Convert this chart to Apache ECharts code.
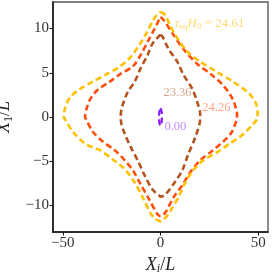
<!DOCTYPE html>
<html><head><meta charset="utf-8">
<script src="https://cdn.jsdelivr.net/npm/echarts@6/dist/echarts.min.js"></script>
<style>html,body{margin:0;padding:0;background:#fff}#c{width:272px;height:272px}</style>
</head><body><div id="c"></div><script>
// closed contours [X_i/L, X_1/L]
const curve000 = [[0,1.0],[0.6,0.6],[0.7,0],[0.6,-0.6],[0,-1.0],[-0.6,-0.6],[-0.7,0],[-0.6,0.6],[0,1.0]];
const curve2336 = [[0,9.3],[1,9.1],[4.1,7.7],[8.6,6.25],[11.7,4.8],[16.2,3.2],[18.8,1.7],[20.3,0.3],
  [20.3,-0.2],[17.8,-2.3],[14.2,-4.2],[11.2,-6.0],[6.6,-7.6],[2.5,-8.75],[0,-9.0],
  [-0.5,-8.9],[-4.1,-8.2],[-8.1,-6.6],[-11.7,-4.9],[-15.2,-3.4],[-18.3,-1.9],[-20.3,-0.3],
  [-20.3,0.3],[-19.3,1.4],[-16.8,2.8],[-13.2,4.0],[-10.2,5.5],[-6.6,7.0],[-4.1,8.3],[0,9.3]];
const curve2426 = [[0,11.3],[1.5,11.0],[6.6,9.3],[11.7,7.7],[18.8,6.0],[25.4,4.9],[32,3.6],[37,2.0],[39,0.6],[39.2,0],
  [39,-0.3],[36.5,-1.7],[32,-2.8],[26.9,-3.75],[20.3,-4.9],[15.2,-6.25],[11.2,-7.7],[6.6,-9.1],[2.5,-10.8],[0,-11.2],
  [-1.5,-11.0],[-5.6,-9.4],[-10.2,-7.6],[-14.2,-6.0],[-18.3,-4.9],[-23.4,-3.75],[-29.4,-2.8],[-34.5,-1.7],[-38,-0.3],[-38.6,0],
  [-38,0.8],[-36,2.0],[-32,3.1],[-25.9,4.0],[-20.3,4.9],[-14.2,5.7],[-10.2,7.0],[-6.6,8.5],[-3,10],[0,11.3]];
const curve2461 = [[0,11.9],[2.5,11.5],[5,10.3],[8.6,8.9],[13.7,7.4],[20.3,6.25],[28.9,5.1],[37,4.0],[44.7,2.8],[48.5,1.7],[49.7,0.6],[49.7,0],
  [47,-0.9],[42,-2.0],[35.5,-3.0],[28.9,-4.0],[21.8,-4.9],[16.8,-6.0],[12.7,-7.4],[9.1,-9.1],[5.1,-10.6],[2.5,-11.4],[0,-11.8],
  [-4.1,-11.2],[-9.1,-9.1],[-13.2,-7.4],[-18.3,-5.9],[-24.4,-4.8],[-31,-3.75],[-38,-3.1],[-44.7,-1.7],[-48.7,-0.3],[-49.5,0],
  [-48.7,1.1],[-46,2.3],[-41,3.2],[-34.5,4.0],[-27.9,4.8],[-20.8,5.7],[-15.2,6.8],[-10.7,8.2],[-7.6,9.3],[-4.1,10.8],[-2,11.5],[0,11.9]];
const xTicks = [-50, 0, 50];
const yTicks = [-10, -5, 0, 5, 10];
const labelNames = ['0.00', '23.36', '24.26', '24.61'];
const labelAnchors = [[2.0,-1.1],[1.5,2.7],[21.4,1.1],[7.1,10.6]];

const colors = ['#8c1aff', '#b3541e', '#ff4d0d', '#ffc000'];
const textColors = ['rgba(140,26,255,0.65)', 'rgba(179,84,30,0.65)', 'rgba(255,77,13,0.65)', 'rgba(255,192,0,0.7)'];
const curves = [curve000, curve2336, curve2426, curve2461];
const FONT = '"Liberation Serif", "DejaVu Serif", serif';
const minus = v => String(v).replace('-', '\u2212');

const series = curves.map((c, i) => ({
  type: 'line', data: c, showSymbol: false, smooth: 0.3, silent: true,
  lineStyle: { color: colors[i], width: i === 0 ? 2.2 : 2.6, type: [6, 3.5] }
}));
series.push({
  type: 'scatter', symbolSize: 0, silent: true,
  data: labelAnchors.map((p, i) => ({
    value: p,
    label: {
      show: true, position: 'right', distance: 0,
      color: textColors[i], fontFamily: FONT, fontSize: 12.5,
      formatter: i === 3 ? '{it|τ}{sub|eq}{it|H}{sub|0}{n| = ' + labelNames[i] + '}' : labelNames[i],
      rich: {
        it: { fontStyle: 'italic', fontFamily: FONT, fontSize: 13, color: textColors[i], lineHeight: 16 },
        n: { fontFamily: FONT, fontSize: 13, color: textColors[i], lineHeight: 16 },
        sub: { fontFamily: FONT, fontSize: 9, color: textColors[i], verticalAlign: 'bottom', lineHeight: 9 }
      }
    }
  }))
});

const chart = echarts.init(document.getElementById('c'), null, { renderer: 'canvas' });
chart.setOption({
  animation: false,
  backgroundColor: '#fff',
  grid: { left: 53, right: 4, top: 2, bottom: 40, containLabel: false, outerBoundsMode: 'none',
          show: true, borderColor: '#808080', borderWidth: 1.8, backgroundColor: 'transparent' },
  xAxis: {
    type: 'value', min: -55, max: 55,
    name: '{it|X}{sub|i}{n|/}{it|L}', nameLocation: 'middle', nameGap: 21,
    nameTextStyle: { rich: {
      it: { fontStyle: 'italic', fontFamily: FONT, fontSize: 18, color: '#222', lineHeight: 20 },
      n: { fontFamily: FONT, fontSize: 18, color: '#222', lineHeight: 20 },
      sub: { fontStyle: 'italic', fontFamily: FONT, fontSize: 12, color: '#222', verticalAlign: 'bottom', lineHeight: 12 }
    } },
    splitLine: { show: false },
    axisLine: { onZero: false, lineStyle: { color: '#111', width: 1.5 } },
    axisTick: { show: true, customValues: xTicks, length: 3.5, lineStyle: { color: '#111', width: 1 } },
    axisLabel: { customValues: xTicks, formatter: minus, fontFamily: FONT, fontSize: 15, color: '#333', margin: 4 }
  },
  yAxis: {
    type: 'value', min: -13, max: 13,
    name: '{it|X}{sub|1}{n|/}{it|L}', nameLocation: 'middle', nameGap: 32, nameRotate: 90,
    nameTextStyle: { rich: {
      it: { fontStyle: 'italic', fontFamily: FONT, fontSize: 18, color: '#222', lineHeight: 20 },
      n: { fontFamily: FONT, fontSize: 18, color: '#222', lineHeight: 20 },
      sub: { fontFamily: FONT, fontSize: 12, color: '#222', verticalAlign: 'bottom', lineHeight: 12 }
    } },
    splitLine: { show: false },
    axisLine: { onZero: false, lineStyle: { color: '#111', width: 1.5 } },
    axisTick: { show: true, customValues: yTicks, length: 3.5, lineStyle: { color: '#111', width: 1 } },
    axisLabel: { customValues: yTicks, formatter: minus, fontFamily: FONT, fontSize: 15, color: '#333', margin: 4 }
  },
  series: series
});
</script></body></html>
